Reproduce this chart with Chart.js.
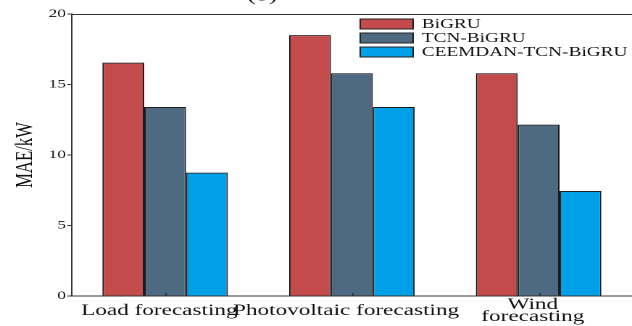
<!DOCTYPE html>
<html>
<head>
<meta charset="utf-8">
<script src="https://cdn.jsdelivr.net/npm/chart.js@4"></script>
<style>
  html, body { margin: 0; padding: 0; background: #fff; overflow: hidden; }
  /* the figure is drawn narrow and widened, like the exported plot */
  #wrap { width: 436px; height: 326px; transform: scaleX(1.4495); transform-origin: 0 0; }
</style>
</head>
<body>
<div id="wrap"><canvas id="maeChart" width="436" height="326"></canvas></div>
<script>
const categories = ['Load forecasting', 'Photovoltaic forecasting', ['Wind', 'forecasting']];
const bigru = [16.55, 18.5, 15.8];
const tcnBigru = [13.4, 15.8, 12.15];
const ceemdanTcnBigru = [8.75, 13.4, 7.45];
const yTicks = [0, 5, 10, 15, 20];

const serif = '"Liberation Serif", "Times New Roman", serif';

// top frame line, short inner ticks on x, legend box, cut-off panel label
const extras = {
  id: 'extras',
  afterDraw(chart) {
    const { ctx, chartArea: a, scales: { x } } = chart;
    ctx.save();
    ctx.strokeStyle = '#333';
    ctx.lineWidth = 1;
    ctx.beginPath();
    ctx.moveTo(a.left, a.top + 0.5);
    ctx.lineTo(a.right, a.top + 0.5);
    categories.forEach((c, i) => {
      const px = Math.round(x.getPixelForValue(i)) + 0.5;
      ctx.moveTo(px, a.bottom);
      ctx.lineTo(px, a.bottom - 3);
    });
    ctx.stroke();

    ctx.font = '13.3px ' + serif;
    ctx.textBaseline = 'middle';
    ctx.textAlign = 'left';
    chart.data.datasets.forEach((ds, i) => {
      const y = 19 + i * 14;
      ctx.fillStyle = ds.backgroundColor;
      ctx.fillRect(248.5, y, 36.5, 10);
      ctx.strokeStyle = '#222';
      ctx.strokeRect(248.5, y, 36.5, 10);
      ctx.fillStyle = '#111';
      ctx.fillText(ds.label, 291, y + 5.5);
    });

    ctx.font = '18px ' + serif;
    ctx.textAlign = 'center';
    ctx.textBaseline = 'alphabetic';
    ctx.fillText('(b)', 181, 0.5);
    ctx.restore();
  }
};

new Chart(document.getElementById('maeChart'), {
  type: 'bar',
  data: {
    labels: categories,
    datasets: [
      { label: 'BiGRU', data: bigru, backgroundColor: '#c44b4b' },
      { label: 'TCN-BiGRU', data: tcnBigru, backgroundColor: '#4e6a82' },
      { label: 'CEEMDAN-TCN-BiGRU', data: ceemdanTcnBigru, backgroundColor: '#00a0e9' }
    ]
  },
  options: {
    responsive: false,
    devicePixelRatio: 2,
    animation: false,
    datasets: {
      bar: { borderColor: '#1a1a1a', borderWidth: 1, categoryPercentage: 0.672, barPercentage: 1 }
    },
    layout: { padding: { top: 14, right: 0, bottom: 0, left: 0 } },
    plugins: { legend: { display: false }, tooltip: { enabled: false } },
    scales: {
      x: {
        offset: true,
        grid: { display: false, drawTicks: false },
        border: { display: true, color: '#333', width: 1 },
        ticks: {
          font: { family: serif, size: 16, lineHeight: 0.75 },
          color: '#111', padding: 9, labelOffset: -4,
          maxRotation: 0, autoSkip: false, crossAlign: 'center'
        },
        afterFit(s) { s.height = 30; }
      },
      y: {
        min: 0, max: 20,
        afterBuildTicks(s) { s.ticks = yTicks.map(v => ({ value: v })); },
        grid: { drawOnChartArea: false, drawTicks: true, tickLength: 3, color: '#333' },
        border: { display: true, color: '#333', width: 1 },
        ticks: { font: { family: serif, size: 12 }, color: '#111', padding: 1 },
        title: {
          display: true, text: 'MAE/kW', color: '#111',
          font: { family: serif, size: 16.7 }, padding: { top: 7.5, bottom: 0 }
        },
        afterFit(s) { s.width = 49.5; }
      }
    }
  },
  plugins: [extras]
});
</script>
</body>
</html>
